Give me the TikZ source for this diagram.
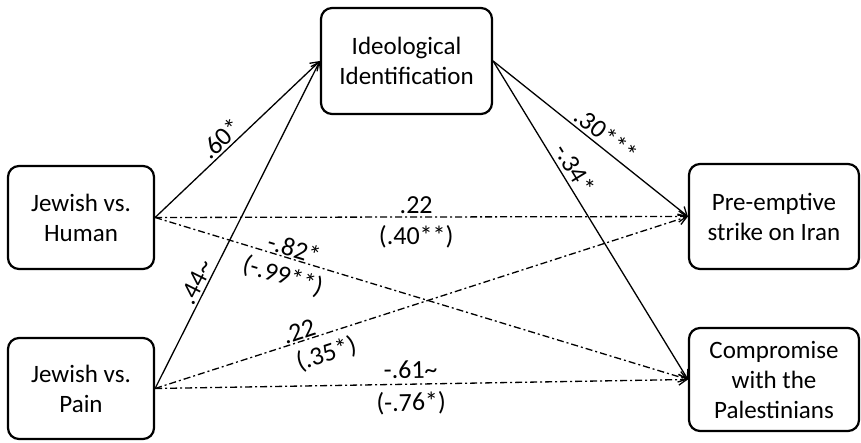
\documentclass[tikz,border=0pt]{standalone}
\usepackage{fontspec}
\setmainfont{Carlito}
\usetikzlibrary{arrows.meta}
\begin{document}
\begin{tikzpicture}[x=1pt,y=1pt,
  box/.style={draw, line width=2.2pt, rounded corners=11pt, align=center,
    font=\fontsize{25}{30}\selectfont, inner sep=0pt},
  link/.style={line width=1.3pt,
    -{Straight Barb[length=8pt,width=11pt,line width=1.3pt]}},
  dlink/.style={link, dash pattern=on 7pt off 3pt on 2pt off 3pt},
  lbl/.style={font=\fontsize{26}{30}\selectfont, inner sep=1pt},
  up/.style={above=#1},
  down/.style={below=#1}]
\useasboundingbox (0,0) rectangle (861,443);

% boxes
\node[box, minimum width=171pt, minimum height=106pt] (ideo) at (406.5,382) {Ideological\\Identification};
\node[box, minimum width=146pt, minimum height=103pt] (human) at (81,225.5) {Jewish vs.\\Human};
\node[box, minimum width=146pt, minimum height=101pt] (pain) at (81,54.5) {Jewish vs.\\Pain};
\node[box, minimum width=170pt, minimum height=105pt] (pre) at (774,226.5) {Pre-emptive\\strike on Iran};
\node[box, minimum width=170pt, minimum height=103pt] (comp) at (774,63.5) {Compromise\\with the\\Palestinians};

% paths through the mediator
\draw[link] (human.east) -- node[lbl, sloped, up=1pt, pos=0.45] {.60*} (ideo.west);
\draw[link] (pain.east) -- node[lbl, sloped, up=1pt, pos=0.31] {.44\textasciitilde} (ideo.west);
\draw[link] (ideo.east) -- node[lbl, sloped, up=2pt, pos=0.54] {.30***} (pre.west);
\draw[link] (ideo.east) -- node[lbl, sloped, up=3pt, pos=0.36] {-.34*} (comp.west);

% direct (total) effects
\draw[dlink] (human.east) -- node[lbl, up=2pt, pos=0.49] {.22}
  node[lbl, down=7pt, pos=0.49] {(.40**)} (pre.west);
\draw[dlink] (human.east) -- node[lbl, sloped, up=0pt, pos=0.255] {-.82*}
  node[lbl, sloped, down=6pt, pos=0.25] {(-.99**)} (comp.west);
\draw[dlink] (pain.east) -- node[lbl, sloped, up=0pt, pos=0.276] {.22}
  node[lbl, sloped, down=7pt, pos=0.31] {(.35*)} (pre.west);
\draw[dlink] (pain.east) -- node[lbl, sloped, up=4pt, pos=0.48] {-.61\textasciitilde}
  node[lbl, sloped, down=6pt, pos=0.48] {(-.76*)} (comp.west);
\end{tikzpicture}
\end{document}
